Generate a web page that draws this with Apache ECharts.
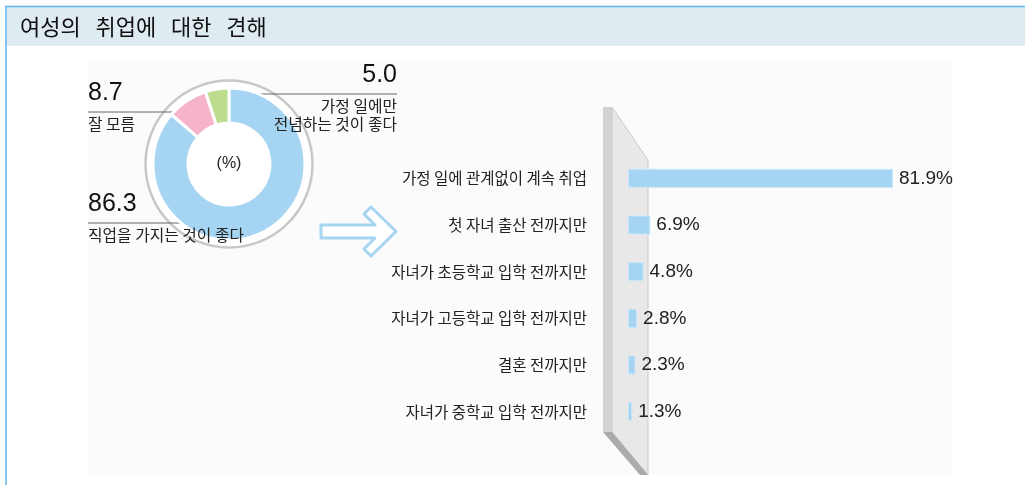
<!DOCTYPE html>
<html>
<head>
<meta charset="utf-8">
<script src="https://cdn.jsdelivr.net/npm/echarts@6/dist/echarts.min.js"></script>
<style>
  html, body { margin: 0; padding: 0; background: #fff; }
  #chart { width: 1025px; height: 485px; }
</style>
</head>
<body>
<div id="chart"></div>
<script>
const titleText = '여성의   취업에   대한   견해';
const pieNames = ['직업을 가지는 것이 좋다', '잘 모름', '가정 일에만\n전념하는 것이 좋다'];
const pieValues = [86.3, 8.7, 5.0];
const pieColors = ['#a5d5f2', '#f6b4cb', '#bcdc8e'];
const barCategories = [
  '가정 일에 관계없이 계속 취업',
  '첫 자녀 출산 전까지만',
  '자녀가 초등학교 입학 전까지만',
  '자녀가 고등학교 입학 전까지만',
  '결혼 전까지만',
  '자녀가 중학교 입학 전까지만'
];
const barValues = [81.9, 6.9, 4.8, 2.8, 2.3, 1.3];

// where each donut label sits, and where its underline ends
const pieLabelLayout = [
  { x: 88, y: 182, align: 'left', lineTo: 207 },
  { x: 88, y: 71, align: 'left', lineTo: 188 },
  { x: 397, y: 53, align: 'right', lineTo: 222 }
];

const numFont = "'Liberation Sans', 'Noto Sans CJK KR', sans-serif";
const krFont = "'Noto Sans CJK KR', 'Liberation Sans', sans-serif";
const pieCenter = [229, 164];

const chart = echarts.init(document.getElementById('chart'));

const option = {
  animation: false,
  backgroundColor: '#fff',
  graphic: [
    // frame + title bar
    { type: 'rect', z: 0, shape: { x: 7, y: 7, width: 1020, height: 39 }, style: { fill: '#deecf2' } },
    { type: 'line', z: 1, shape: { x1: 5, y1: 6.5, x2: 1025, y2: 6.5 }, style: { stroke: '#5db5ef', lineWidth: 1.5 } },
    { type: 'line', z: 1, shape: { x1: 6, y1: 6, x2: 6, y2: 485 }, style: { stroke: '#5db5ef', lineWidth: 1.5 } },
    { type: 'text', z: 2, style: { x: 20, y: 27, text: titleText, font: '22px ' + krFont, fill: '#111', verticalAlign: 'middle' } },
    // content panel
    { type: 'rect', z: 0, shape: { x: 87, y: 60, width: 866, height: 415 }, style: { fill: '#fbfbfb' } },
    // ring around donut
    { type: 'circle', z: 1, shape: { cx: pieCenter[0], cy: pieCenter[1], r: 83.5 }, style: { fill: '#fff', stroke: '#c8c8c8', lineWidth: 2.5 } },
    { type: 'text', z: 5, style: { x: pieCenter[0], y: pieCenter[1], text: '(%)', font: '16px ' + numFont, fill: '#222', align: 'center', verticalAlign: 'middle' } },
    // arrow
    {
      type: 'polygon', z: 1,
      shape: { points: [[321, 225], [375, 225], [364, 214], [371, 207], [396, 231.5], [371, 256], [364, 249], [375, 238], [321, 238]] },
      style: { fill: '#fff', stroke: '#a6d5f2', lineWidth: 3, lineJoin: 'round' }
    },
    // 3D divider panel
    { type: 'rect', z: 1, shape: { x: 603, y: 107, width: 9, height: 325 }, style: { fill: '#d2d2d2' } },
    { type: 'polygon', z: 1, shape: { points: [[612, 107], [648, 160], [648, 475], [612, 432]] }, style: { fill: '#e8e8e8', stroke: '#cacaca', lineWidth: 1 } },
    { type: 'polygon', z: 1, shape: { points: [[603, 432], [612, 432], [648, 475], [640, 475]] }, style: { fill: '#ababab' } }
  ],
  grid: { left: 628, top: 155, width: 323.6, height: 280 },
  xAxis: { type: 'value', min: 0, max: 100, show: false },
  yAxis: {
    type: 'category',
    inverse: true,
    data: barCategories,
    axisLine: { show: false },
    axisTick: { show: false },
    axisLabel: { margin: 41, fontSize: 15.5, color: '#222', fontFamily: krFont }
  },
  series: [
    {
      type: 'pie',
      silent: true,
      z: 3,
      center: pieCenter,
      radius: [41, 76],
      startAngle: 90,
      clockwise: true,
      itemStyle: { borderColor: '#fff', borderWidth: 3 },
      data: pieValues.map((v, i) => ({ value: v, name: pieNames[i], itemStyle: { color: pieColors[i] } })),
      label: {
        show: true,
        position: 'outside',
        formatter: p => '{v|' + p.value.toFixed(1) + '}\n' +
          p.name.split('\n').map(s => '{n|' + s + '}').join('\n'),
        rich: {
          v: { fontSize: 25, lineHeight: 44, color: '#111', fontFamily: numFont },
          n: { fontSize: 15.8, lineHeight: 18, color: '#222', fontFamily: krFont }
        }
      },
      labelLine: { show: true, lineStyle: { color: '#666', width: 1 } },
      labelLayout: function (p) {
        const L = pieLabelLayout[p.dataIndex];
        const lineY = L.y + 41;
        return {
          x: L.x, y: L.y, align: L.align, verticalAlign: 'top',
          labelLinePoints: [[L.lineTo, lineY], [L.x, lineY], [L.x, lineY]]
        };
      }
    },
    {
      type: 'bar',
      z: 3,
      data: barValues,
      barWidth: 19,
      itemStyle: { color: '#a5d5f2', borderColor: '#c9e6f8', borderWidth: 1 },
      label: {
        show: true,
        position: 'right',
        distance: 6,
        formatter: '{c}%',
        fontSize: 19,
        color: '#222',
        fontFamily: numFont
      }
    }
  ]
};

chart.setOption(option);
</script>
</body>
</html>
